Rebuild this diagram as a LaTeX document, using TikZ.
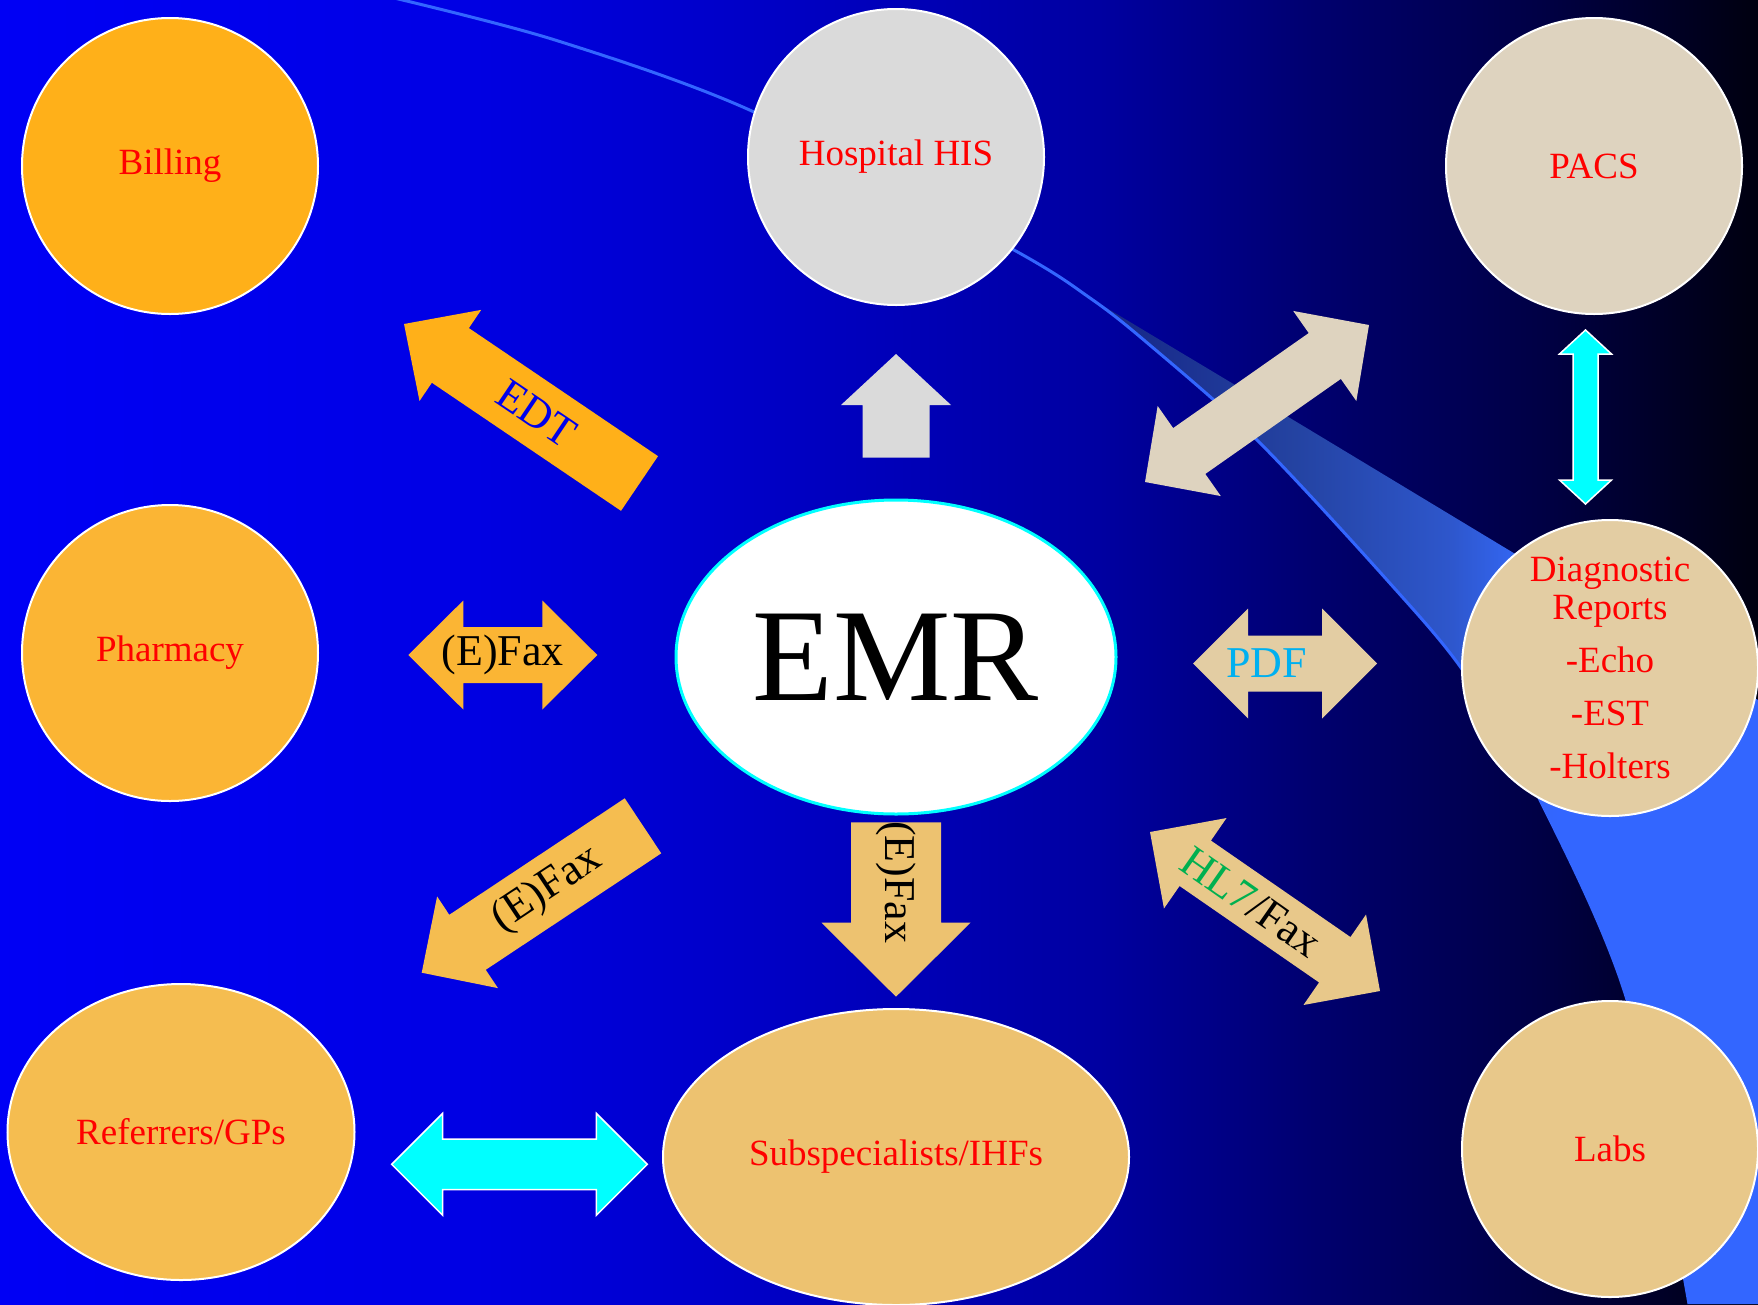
\documentclass[tikz,border=0pt]{standalone}
\usepackage{fontspec}
\setmainfont{Liberation Serif}
\usetikzlibrary{calc, shapes.geometric}

\definecolor{billc}{RGB}{255,176,25}
\definecolor{pharmc}{RGB}{251,181,52}
\definecolor{refc}{RGB}{245,189,80}
\definecolor{subc}{RGB}{237,194,112}
\definecolor{labc}{RGB}{232,200,138}
\definecolor{diagc}{RGB}{227,205,163}
\definecolor{pacsc}{RGB}{222,211,191}
\definecolor{hisc}{RGB}{218,218,218}
\definecolor{skyc}{RGB}{51,102,255}
\definecolor{aquac}{RGB}{0,255,255}
\definecolor{pdfc}{RGB}{0,176,240}
\definecolor{hlc}{RGB}{0,176,80}
\definecolor{edtc}{RGB}{0,0,235}

\pgfdeclarehorizontalshading{bgshade}{100bp}{rgb(0bp)=(0,0,.96); rgb(25bp)=(0,0,.96);
  rgb(37.5bp)=(0,0,.9); rgb(50bp)=(0,0,.73); rgb(56.3bp)=(0,0,.63); rgb(62.5bp)=(0,0,.43);
  rgb(68.8bp)=(0,0,.27); rgb(75bp)=(0,0,.06); rgb(100bp)=(0,0,.06)}
\pgfdeclarehorizontalshading{swshade}{100bp}{rgb(0bp)=(.08,.14,.52); rgb(25bp)=(.08,.14,.52);
  rgb(40bp)=(.14,.26,.63); rgb(52bp)=(.18,.34,.8); rgb(57bp)=(.2,.4,.95); rgb(60bp)=(.2,.4,1);
  rgb(100bp)=(.2,.4,1)}

% block arrows between two named coordinates (name-a, name-b)
\newcommand{\blockone}[5]{%
  \coordinate (#2-n) at ($(#2-b)!#5pt!(#2-a)$);
  \path[#1] ($(#2-a)!#3pt!90:(#2-b)$) -- ($(#2-n)!#3pt!90:(#2-b)$) -- ($(#2-n)!#4pt!90:(#2-b)$)
    -- (#2-b) -- ($(#2-n)!#4pt!-90:(#2-b)$) -- ($(#2-n)!#3pt!-90:(#2-b)$)
    -- ($(#2-a)!#3pt!-90:(#2-b)$) -- cycle;
}
\newcommand{\blocktwo}[5]{%
  \coordinate (#2-m) at ($(#2-a)!#5pt!(#2-b)$);
  \coordinate (#2-n) at ($(#2-b)!#5pt!(#2-a)$);
  \path[#1] (#2-a) -- ($(#2-m)!#4pt!90:(#2-b)$) -- ($(#2-m)!#3pt!90:(#2-b)$)
    -- ($(#2-n)!#3pt!90:(#2-b)$) -- ($(#2-n)!#4pt!90:(#2-b)$) -- (#2-b)
    -- ($(#2-n)!#4pt!-90:(#2-b)$) -- ($(#2-n)!#3pt!-90:(#2-b)$)
    -- ($(#2-m)!#3pt!-90:(#2-b)$) -- ($(#2-m)!#4pt!-90:(#2-b)$) -- cycle;
}

\begin{document}
\begin{tikzpicture}[x=1pt, y=-1pt,
    hub/.style={circle, draw=white, line width=2pt, minimum size=296pt, inner sep=0pt,
        text=red, align=center, font=\fontsize{37}{38}\selectfont},
    oval/.style={hub, ellipse, minimum height=296pt},
    arrtext/.style={inner sep=0pt, font=\fontsize{44}{46}\selectfont},
    cyanline/.style={fill=aquac, draw=white, line width=1.5pt},
    swline/.style={draw=skyc, line width=3pt}
]
\useasboundingbox (0,0) rectangle (1758,1304);
% ===== BACKGROUND =====
\shade[shading=bgshade] (0,0) rectangle (1758,1304);
\shade[shading=swshade] plot[smooth] coordinates {(1090,298) (1290,418) (1512,552) (1758,700)}
    -- (1758,1304) -- plot[smooth] coordinates {(1689,1304) (1628,1003) (1541,802) (1464,672)
    (1387,580) (1256,439) (1145,341) (1090,298)} -- cycle;
\draw[swline] plot[smooth] coordinates {(390,-3) (555,40) (754,112) (1014,250) (1090,298)
    (1145,341) (1256,439) (1387,580) (1464,672) (1541,802) (1628,1003) (1689,1304)};
% ===== BLOCK ARROWS =====
\coordinate (edt-a) at (639.5,483.5);  \coordinate (edt-b) at (404,324);
\blockone{fill=billc}{edt}{33}{55}{56}
\coordinate (up-a) at (896,457.5);     \coordinate (up-b) at (896,354);
\blockone{fill=hisc}{up}{33.5}{55}{51}
\coordinate (img-a) at (1145,482);     \coordinate (img-b) at (1369,325);
\blocktwo{fill=pacsc}{img}{28}{55}{54}
\coordinate (cyv-a) at (1585.5,504);   \coordinate (cyv-b) at (1585.5,330);
\blocktwo{cyanline}{cyv}{12.5}{26}{24}
\coordinate (fax-a) at (408.3,655);    \coordinate (fax-b) at (597.3,655);
\blocktwo{fill=pharmc}{fax}{28}{54.5}{55}
\coordinate (ref-a) at (643,825.8);    \coordinate (ref-b) at (421.7,972.7);
\blockone{fill=refc}{ref}{33}{55}{55}
\coordinate (dn-a) at (896,822.3);     \coordinate (dn-b) at (896,996.7);
\blockone{fill=subc}{dn}{45}{74.5}{74}
\coordinate (hl-a) at (1150,832);      \coordinate (hl-b) at (1380,991);
\blocktwo{fill=labc}{hl}{27.6}{55}{55}
\coordinate (pdf-a) at (1193,663.5);   \coordinate (pdf-b) at (1377,663.5);
\blocktwo{fill=diagc}{pdf}{28}{55}{55}
\coordinate (cyh-a) at (391.7,1164.3); \coordinate (cyh-b) at (647.3,1164.3);
\blocktwo{cyanline}{cyh}{25.3}{51}{51}
% ===== ARROW LABELS =====
\node[arrtext, text=edtc, rotate=-34] (edt) at ($(edt-a)!0.436!(edt-b)$) {EDT};
\node[arrtext] (pharmfax) at ($(fax-a)!0.5!(fax-b)$) {(E)Fax};
\node[arrtext, rotate=33.6] (reffax) at ($(ref-a)!0.433!(ref-b)$) {(E)Fax};
\node[arrtext, rotate=-90, xshift=-6pt] (subfax) at ($(dn-a)!0.378!(dn-b)$) {(E)Fax};
\node[arrtext, text=pdfc] (pdf) at ($(pdf-a)!0.4!(pdf-b)$) {PDF};
\node[arrtext, rotate=-35] (hl7) at ($(hl-a)!0.44!(hl-b)$) {\textcolor{hlc}{HL7}/Fax};
% ===== SYSTEMS =====
\node[hub, fill=billc]  (billing)  at (170,166)  {Billing};
\node[hub, fill=hisc]   (his)      at (896,157)  {Hospital HIS};
\node[hub, fill=pacsc]  (pacs)     at (1594,166) {PACS};
\node[hub, fill=pharmc] (pharmacy) at (170,653)  {Pharmacy};
\node[ellipse, draw=aquac, line width=3pt, fill=white, minimum width=440pt, minimum height=314pt,
    inner sep=0pt, font=\fontsize{132}{132}\selectfont] (emr) at (896,657) {EMR};
\node[hub, fill=diagc]  (diag)     at (1610,668)
    {Diagnostic\\Reports\\[15pt]-Echo\\[15pt]-EST\\[15pt]-Holters};
\node[oval, fill=refc, minimum width=347pt] (referrers) at (181,1132) {Referrers/GPs};
\node[oval, fill=subc, minimum width=466pt] (subspec)   at (896,1157) {Subspecialists/IHFs};
\node[hub, fill=labc]   (labs)     at (1610,1149) {Labs};
\end{tikzpicture}
\end{document}
